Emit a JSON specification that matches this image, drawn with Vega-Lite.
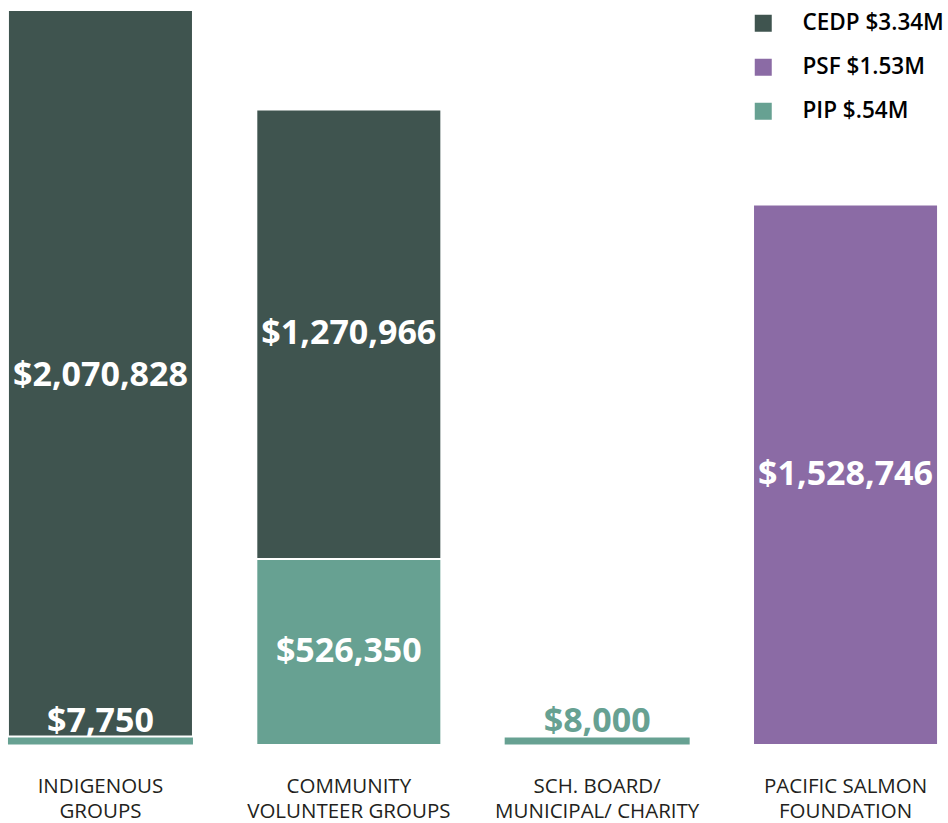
{
  "$schema": "https://vega.github.io/schema/vega-lite/v6.json",
  "autosize": {"type": "none"},
  "width": 946,
  "height": 735,
  "padding": {"left": 0, "top": 10, "right": 2, "bottom": 78},
  "background": "white",
  "data": {
    "values": [
      {"group": "INDIGENOUS|GROUPS", "fund": "PIP", "value": 7750, "order": 1},
      {"group": "INDIGENOUS|GROUPS", "fund": "CEDP", "value": 2070828, "order": 2},
      {"group": "COMMUNITY|VOLUNTEER GROUPS", "fund": "PIP", "value": 526350, "order": 1},
      {"group": "COMMUNITY|VOLUNTEER GROUPS", "fund": "CEDP", "value": 1270966, "order": 2},
      {"group": "SCH. BOARD/|MUNICIPAL/ CHARITY", "fund": "PIP", "value": 8000, "order": 1},
      {"group": "PACIFIC SALMON|FOUNDATION", "fund": "PSF", "value": 1528746, "order": 2}
    ]
  },
  "transform": [
    {"stack": "value", "groupby": ["group"], "sort": [{"field": "order", "order": "ascending"}], "as": ["v0", "v1"]},
    {"calculate": "(datum.v0 + datum.v1) / 2", "as": "vmid"}
  ],
  "encoding": {
    "x": {
      "field": "group",
      "type": "nominal",
      "sort": ["INDIGENOUS|GROUPS", "COMMUNITY|VOLUNTEER GROUPS", "SCH. BOARD/|MUNICIPAL/ CHARITY", "PACIFIC SALMON|FOUNDATION"],
      "scale": {"paddingInner": 0.255, "paddingOuter": 0.032},
      "axis": {
        "title": null,
        "domain": false,
        "ticks": false,
        "labelAngle": 0,
        "labelExpr": "split(datum.label, '|')",
        "labelFont": "Open Sans",
        "labelFontSize": 20.5,
        "labelColor": "#231f20",
        "labelPadding": 41,
        "labelLineHeight": 25.5,
        "labelBaseline": "middle",
        "labelLimit": 400,
        "labelOverlap": false
      }
    }
  },
  "layer": [
    {
      "mark": {"type": "bar", "stroke": "white", "strokeWidth": 2},
      "encoding": {
        "y": {"field": "v0", "type": "quantitative", "scale": {"domain": [0, 2078578], "nice": false}, "axis": null},
        "y2": {"field": "v1"},
        "color": {
          "field": "fund",
          "type": "nominal",
          "scale": {"domain": ["CEDP", "PSF", "PIP"], "range": ["#3f544f", "#8b6ba5", "#67a192"]},
          "legend": {
            "title": null,
            "orient": "top-right",
            "offset": 2,
            "padding": 0,
            "symbolType": "square",
            "symbolSize": 289,
            "symbolStrokeWidth": 0,
            "symbolOpacity": 1,
            "labelFont": "Open Sans",
            "labelFontSize": 22.5,
            "labelFontWeight": 600,
            "labelOffset": 28,
            "labelLimit": 300,
            "rowPadding": 21,
            "labelExpr": "datum.label === 'CEDP' ? 'CEDP $3.34M' : datum.label === 'PSF' ? 'PSF $1.53M' : 'PIP $.54M'",
            "encode": {
              "labels": {
                "update": {
                  "fill": {"signal": "datum.value === 'CEDP' ? '#3f544f' : datum.value === 'PSF' ? '#8b6ba5' : '#67a192'"}
                }
              }
            }
          }
        }
      }
    },
    {
      "transform": [{"filter": "datum.value < 50000"}],
      "mark": {"type": "tick", "orient": "horizontal", "thickness": 9, "size": 187, "yOffset": -4, "stroke": "white", "strokeWidth": 2, "opacity": 1},
      "encoding": {
        "y": {"field": "v0", "type": "quantitative"},
        "color": {"value": "#67a192"}
      }
    },
    {
      "transform": [{"filter": "datum.value >= 50000"}],
      "mark": {"type": "text", "font": "Open Sans", "fontSize": 34, "fontWeight": "bold", "color": "white", "baseline": "middle"},
      "encoding": {
        "y": {"field": "vmid", "type": "quantitative"},
        "text": {"field": "value", "type": "quantitative", "format": "$,.0f"}
      }
    },
    {
      "transform": [{"filter": "datum.value < 50000"}],
      "mark": {"type": "text", "font": "Open Sans", "fontSize": 34, "fontWeight": "bold", "baseline": "alphabetic", "dy": -10},
      "encoding": {
        "y": {"field": "v1", "type": "quantitative"},
        "text": {"field": "value", "type": "quantitative", "format": "$,.0f"},
        "color": {
          "condition": {"test": "datum.group === 'INDIGENOUS|GROUPS'", "value": "white"},
          "value": "#67a192"
        }
      }
    }
  ],
  "config": {"view": {"stroke": null}}
}
